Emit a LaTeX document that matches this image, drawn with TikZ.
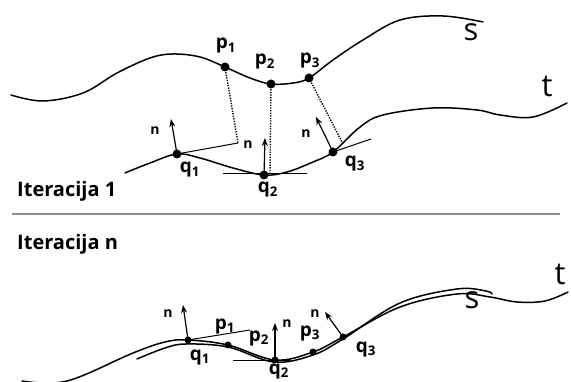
\documentclass[tikz,border=0pt]{standalone}
\usepackage{fontspec}
\setmainfont{Open Sans}
\usetikzlibrary{arrows.meta}
\tikzset{
  curve/.style={line width=1.5pt, line cap=round},
  dotpt/.style={circle, fill=black, inner sep=0pt, minimum size=9pt},
  dotsm/.style={circle, fill=black, inner sep=0pt, minimum size=7pt},
  lbl/.style={font=\fontsize{19}{19}\selectfont\bfseries, inner sep=0pt},
  nlbl/.style={font=\fontsize{14}{14}\selectfont\bfseries, inner sep=0pt},
  big/.style={font=\fontsize{31}{31}\selectfont, inner sep=0pt},
  head/.style={font=\fontsize{20}{20}\selectfont\bfseries, inner sep=0pt, anchor=base west},
  normal/.style={line width=1.2pt, -{Stealth[length=8pt,width=6pt]}},
  tang/.style={line width=1pt},
  proj/.style={line width=1.4pt, dash pattern=on 1.3pt off 1.3pt},
}
\begin{document}
\begin{tikzpicture}[x=1pt,y=-1pt]
\useasboundingbox (0,0) rectangle (571,382);
% ---------- Iteration 1 ----------
\coordinate (p1) at (225,67);
\coordinate (p2) at (271,84);
\coordinate (p3) at (309,78);
\coordinate (q1) at (177,154);
\coordinate (q2) at (264,175);
\coordinate (q3) at (333,152);
% curve s
\draw[curve] plot[smooth, tension=0.6] coordinates {(11,95) (43,101) (83,93) (117,73) (150,58) (173,54) (200,57) (p1) (250,78) (p2) (293,83) (p3) (333,60) (363,40) (400,20) (443,16) (483,22)};
% curve t
\draw[curve] plot[smooth, tension=0.6] coordinates {(125,173) (150,163) (q1) (200,158) (233,168) (q2) (287,172) (313,162) (q3) (360,127) (383,115) (433,108) (477,110) (500,115) (533,117) (567,103)};
% tangents
\coordinate (t1e) at (238,143);
\draw[tang] (q1) -- (t1e);
\coordinate (t2a) at (223,174);
\coordinate (t2b) at (307,174);
\draw[tang] (t2a) -- (t2b);
\coordinate (t3e) at (371,139);
\draw[tang] (q3) -- (t3e);
% projections
\coordinate (d2) at (270,173);
\coordinate (d3) at (343,144);
\draw[proj] (p1) -- (t1e);
\draw[proj] (p2) -- (d2);
\draw[proj] (p3) -- (d3);
% normals
\coordinate (n1) at (171,119);
\coordinate (n2) at (265,138);
\coordinate (n3) at (316,117);
\draw[normal] (q1) -- (n1);
\draw[normal] (q2) -- (n2);
\draw[normal] (q3) -- (n3);
% dots
\node[dotpt] (P1) at (p1) {};
\node[dotpt] (P2) at (p2) {};
\node[dotpt] (P3) at (p3) {};
\node[dotpt] (Q1) at (q1) {};
\node[dotpt] (Q2) at (q2) {};
\node[dotpt] (Q3) at (q3) {};
% labels
\node[lbl] (lp1) at (226,46) {p\textsubscript{1}};
\node[lbl] (lp2) at (265,62) {p\textsubscript{2}};
\node[lbl] (lp3) at (310,61) {p\textsubscript{3}};
\node[lbl] (lq1) at (190,170) {q\textsubscript{1}};
\node[lbl] (lq2) at (268,190) {q\textsubscript{2}};
\node[lbl] (lq3) at (355,164) {q\textsubscript{3}};
\node[nlbl] (ln1) at (155,131) {n};
\node[nlbl] (ln1b) at (248,145) {n};
\node[nlbl] (ln3) at (306,134) {n};
\node[big] (ls) at (471,32) {s};
\node[big] (lt) at (547,86) {t};
\node[head] (h1) at (17,197) {Iteracija 1};
% separator
\coordinate (sepL) at (12,214);
\coordinate (sepR) at (560,214);
\draw[line width=1.3pt, black!45] (sepL) -- (sepR);
\node[head] (hn) at (17,250) {Iteracija n};
% ---------- Iteration n ----------
\coordinate (bp1) at (228,345);
\coordinate (bp3) at (313,352);
\coordinate (bq1) at (188,340);
\coordinate (bq2) at (275,360);
\coordinate (bq3) at (343,337);
% curve t
\draw[curve] plot[smooth, tension=0.6] coordinates {(22,381) (67,381) (133,353) (165,342) (bq1) (bp1) (bq2) (bp3) (bq3) (400,307) (457,294) (490,297) (517,302) (545,301) (568,292)};
% curve s
\draw[curve] plot[smooth, tension=0.6] coordinates {(137,359) (165,348) (186,344) (228,347) (274,362) (313,355) (343,339) (400,303) (457,289) (486,291) (492,294)};
% tangents
\coordinate (bt1e) at (250,330);
\draw[tang] (bq1) -- (bt1e);
\coordinate (bt2a) at (233,361);
\coordinate (bt2b) at (290,361);
\draw[tang] (bt2a) -- (bt2b);
% normals
\coordinate (bn1) at (183,305);
\coordinate (bn2) at (275,323);
\coordinate (bn3) at (325,312);
\draw[normal] (bq1) -- (bn1);
\draw[normal] (bq2) -- (bn2);
\draw[normal] (bq3) -- (bn3);
% dots
\node[dotsm] (BP1) at (bp1) {};
\node[dotsm] (BP3) at (bp3) {};
\node[dotsm] (BQ1) at (bq1) {};
\node[dotsm] (BQ2) at (bq2) {};
\node[dotsm] (BQ3) at (bq3) {};
% labels
\node[lbl] (blp1) at (225,326) {p\textsubscript{1}};
\node[lbl] (blp2) at (259,338) {p\textsubscript{2}};
\node[lbl] (blp3) at (310,333) {p\textsubscript{3}};
\node[lbl] (blq1) at (200,357) {q\textsubscript{1}};
\node[lbl] (blq2) at (279,371) {q\textsubscript{2}};
\node[lbl] (blq3) at (366,349) {q\textsubscript{3}};
\node[nlbl] (bln1) at (168,314) {n};
\node[nlbl] (bln2) at (287,324) {n};
\node[nlbl] (bln3) at (315,314) {n};
\node[big] (bls) at (472,300) {s};
\node[big] (blt) at (560,274) {t};
\end{tikzpicture}
\end{document}
